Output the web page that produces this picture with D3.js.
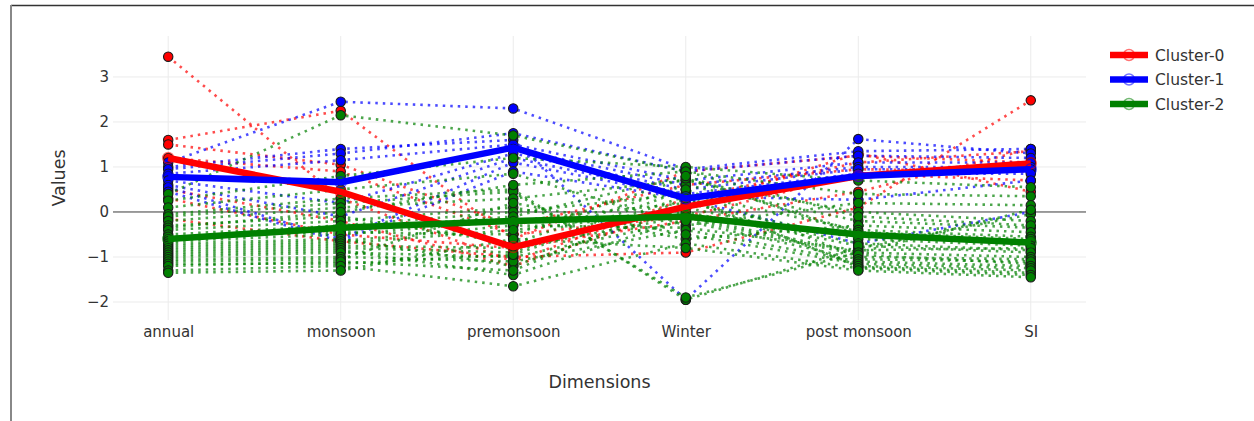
<!DOCTYPE html>
<html>
<head>
<meta charset="utf-8">
<script src="https://cdn.jsdelivr.net/npm/d3@7"></script>
<style>
  body { margin: 0; background: #fff; }
  svg { font-family: "DejaVu Sans", Verdana, sans-serif; }
</style>
</head>
<body>
<div id="chart"></div>
<script>
// dimensions along the x axis
var dims = ["annual", "monsoon", "premonsoon", "Winter", "post monsoon", "SI"];
var yTicks = [-2, -1, 0, 1, 2, 3];
var clusterNames = ["Cluster-0", "Cluster-1", "Cluster-2"];
var clusterColors = ["red", "blue", "green"];

// cluster centres (thick lines)
var centroid0 = [1.2, 0.45, -0.78, 0.12, 0.8, 1.08];
var centroid1 = [0.78, 0.66, 1.43, 0.3, 0.8, 0.95];
var centroid2 = [-0.6, -0.35, -0.2, -0.1, -0.5, -0.68];

// single samples (dotted lines): annual, monsoon, premonsoon, Winter, post monsoon, SI
var cluster0Samples = [
  [3.45, 0.3, -1.1, 0.3, 1.1, 1.35],
  [1.6, 2.25, -0.6, 0.9, 1.25, 1.1],
  [1.5, 1.05, -0.3, 0.6, 0.95, 0.9],
  [1.2, 0.9, -0.5, -0.1, 0.85, 0.7],
  [0.5, -0.2, -1.2, 0.1, 1.3, 0.45],
  [0.3, -0.5, -0.8, -0.2, 0.45, 1.4],
  [-0.15, -0.65, -1.0, -0.9, 0.1, 2.48]
];
var cluster1Samples = [
  [1.1, 2.45, 2.3, 0.95, 1.35, 1.4],
  [1.0, 1.4, 1.6, -1.95, 1.62, 1.3],
  [0.95, 1.3, 1.75, 0.9, 1.25, 1.2],
  [0.85, 1.15, 1.5, 0.7, 1.1, 1.1],
  [0.8, 0.7, 1.4, 0.6, 1.0, 1.0],
  [0.7, 0.2, 1.3, 0.5, 0.95, 0.95],
  [0.6, -0.1, 1.2, 0.4, 0.85, 0.85],
  [0.55, -0.6, 1.1, 0.35, 0.27, 0.7],
  [0.45, -0.65, 0.9, 0.3, -0.7, 0.0]
];
var cluster2Samples = [
  [0.4, 2.15, 1.7, 0.9, 0.4, 0.35],
  [0.25, 0.8, 1.2, 1.0, 0.7, 0.55],
  [0.1, 0.5, 0.85, -0.3, 0.2, 0.15],
  [-0.05, 0.3, 0.5, -1.95, -0.8, -0.05],
  [-0.1, 0.2, 0.45, -1.9, -0.9, 0.05],
  [-0.2, 0.1, 0.3, 0.7, 0.0, -0.2],
  [-0.3, -0.1, -0.7, 0.6, -0.2, -0.35],
  [-0.35, 0.0, 0.6, 0.9, -0.1, -0.3],
  [-0.4, -0.2, 0.1, -0.6, -0.3, -0.45],
  [-0.5, -0.3, 0.0, 0.4, -0.4, -0.55],
  [-0.55, -0.45, -0.5, 0.75, -0.45, -0.6],
  [-0.6, -0.4, -0.1, 0.8, -0.5, -0.65],
  [-0.65, -0.5, -0.2, 0.2, -0.6, -0.75],
  [-0.7, -0.6, -1.2, 0.1, -0.7, -0.85],
  [-0.75, -0.65, -0.3, -0.35, -0.85, -0.8],
  [-0.8, -0.7, -0.4, 0.0, -0.75, -0.9],
  [-0.85, -0.75, -0.8, -0.1, -0.9, -1.0],
  [-0.9, -0.8, -0.9, 0.5, -1.0, -1.05],
  [-0.95, -0.85, -1.4, -0.15, -0.95, -1.15],
  [-1.0, -0.9, -1.0, -0.2, -1.05, -1.1],
  [-1.05, -1.0, -1.1, -0.4, -1.1, -1.2],
  [-1.1, -1.05, 0.2, -0.5, -1.15, -1.25],
  [-1.15, -1.15, -0.95, 0.35, -1.22, -1.35],
  [-1.2, -1.1, -1.3, 0.3, -1.2, -1.3],
  [-1.3, -1.2, -1.65, -0.7, -1.25, -1.4],
  [-1.35, -1.3, -0.6, -0.8, -1.3, -1.45]
];

var svgWidth = 1254;
var svgHeight = 421;

// plot area
var plotLeft = 113, plotRight = 1086, plotTop = 36, plotBottom = 320;

var svg = d3.select("#chart").append("svg")
  .attr("width", svgWidth)
  .attr("height", svgHeight);

// image frame
svg.append("line").attr("x1", 11).attr("x2", svgWidth).attr("y1", 5.5).attr("y2", 5.5)
  .attr("stroke", "#333").attr("stroke-width", 1.5);
svg.append("line").attr("x1", 11).attr("x2", 11).attr("y1", 5).attr("y2", svgHeight)
  .attr("stroke", "#888").attr("stroke-width", 2);

var x = d3.scalePoint().domain(dims).range([plotLeft, plotRight]).padding(0.32);
var y = d3.scaleLinear().domain([-2.4, 3.91]).range([plotBottom, plotTop]);

// grid
var grid = svg.append("g");
grid.selectAll(".hgrid").data(yTicks).enter().append("line")
  .attr("x1", plotLeft).attr("x2", plotRight)
  .attr("y1", d => y(d)).attr("y2", d => y(d))
  .attr("stroke", "#ebebeb").attr("stroke-width", 1);
grid.selectAll(".vgrid").data(dims).enter().append("line")
  .attr("x1", d => x(d)).attr("x2", d => x(d))
  .attr("y1", plotTop).attr("y2", plotBottom)
  .attr("stroke", "#ebebeb").attr("stroke-width", 1);

// zero line
svg.append("line").attr("x1", plotLeft).attr("x2", plotRight)
  .attr("y1", y(0)).attr("y2", y(0))
  .attr("stroke", "#444").attr("stroke-width", 1);

// y axis labels
var yAxis = d3.axisLeft(y).tickValues(yTicks).tickSize(0).tickPadding(4)
  .tickFormat(d => d < 0 ? "\u2212" + Math.abs(d) : d);
var yAxisG = svg.append("g").attr("transform", `translate(${plotLeft},0)`).call(yAxis);
yAxisG.select(".domain").remove();
yAxisG.selectAll("text").attr("font-size", 15).attr("fill", "#333")
  .attr("font-family", "DejaVu Sans");

// x axis labels
var xAxis = d3.axisBottom(x).tickSize(0).tickPadding(6);
var xAxisG = svg.append("g").attr("transform", `translate(0,${plotBottom})`).call(xAxis);
xAxisG.select(".domain").remove();
xAxisG.selectAll("text").attr("font-size", 15).attr("fill", "#333")
  .attr("font-family", "DejaVu Sans");

// axis titles
svg.append("text").attr("x", (plotLeft + plotRight) / 2).attr("y", 388)
  .attr("text-anchor", "middle").attr("font-size", 17.5).attr("fill", "#333")
  .text("Dimensions");
svg.append("text").attr("transform", `translate(65,${(plotTop + plotBottom) / 2}) rotate(-90)`)
  .attr("text-anchor", "middle").attr("font-size", 17.5).attr("fill", "#333")
  .text("Values");

var line = d3.line().x((d, i) => x(dims[i])).y(d => y(d));

var samples = [cluster0Samples, cluster1Samples, cluster2Samples];
var centroids = [centroid0, centroid1, centroid2];

// dotted sample lines
var sampleG = svg.append("g");
samples.forEach(function(rows, c) {
  sampleG.selectAll(".s" + c).data(rows).enter().append("path")
    .attr("d", line)
    .attr("fill", "none")
    .attr("stroke", clusterColors[c])
    .attr("stroke-width", 2.6)
    .attr("stroke-dasharray", "2.5,5")
    .attr("opacity", 0.7);
});

// sample markers
var markerG = svg.append("g");
samples.forEach(function(rows, c) {
  rows.forEach(function(row) {
    markerG.selectAll(null).data(row).enter().append("circle")
      .attr("cx", (d, i) => x(dims[i]))
      .attr("cy", d => y(d))
      .attr("r", 4.7)
      .attr("fill", clusterColors[c])
      .attr("stroke", "#1a1a1a")
      .attr("stroke-width", 1.1);
  });
});

// centroid lines
centroids.forEach(function(cent, c) {
  svg.append("path").datum(cent)
    .attr("d", line)
    .attr("fill", "none")
    .attr("stroke", clusterColors[c])
    .attr("stroke-width", 6.5)
    .attr("stroke-linejoin", "round");
  svg.selectAll(null).data(cent).enter().append("circle")
    .attr("cx", (d, i) => x(dims[i]))
    .attr("cy", d => y(d))
    .attr("r", 5.5)
    .attr("fill", "none")
    .attr("stroke", clusterColors[c])
    .attr("stroke-opacity", 0.55)
    .attr("stroke-width", 1.5);
});

// legend
var legend = svg.append("g").attr("transform", "translate(1110,55)");
clusterNames.forEach(function(name, c) {
  var g = legend.append("g").attr("transform", `translate(0,${c * 24.5})`);
  g.append("line").attr("x1", 0).attr("x2", 38).attr("y1", 0).attr("y2", 0)
    .attr("stroke", clusterColors[c]).attr("stroke-width", 6.5);
  g.append("circle").attr("cx", 19).attr("cy", 0).attr("r", 5.5)
    .attr("fill", "none").attr("stroke", clusterColors[c])
    .attr("stroke-opacity", 0.55).attr("stroke-width", 1.5);
  g.append("text").attr("x", 45).attr("y", 0).attr("dy", "0.36em")
    .attr("font-size", 15.5).attr("fill", "#333").text(name);
});
</script>
</body>
</html>
